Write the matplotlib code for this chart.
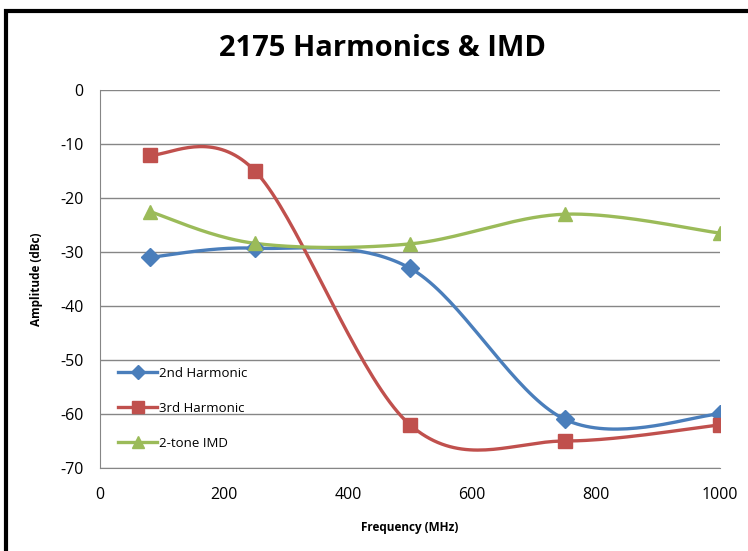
import numpy as np
import matplotlib.pyplot as plt
from matplotlib.patches import Rectangle

freq = [80, 250, 500, 750, 1000]
harm2 = [-31.0, -29.3, -33.0, -61.0, -60.0]
harm3 = [-12.0, -15.0, -62.0, -65.0, -62.0]
imd = [-22.5, -28.4, -28.5, -23.0, -26.5]
labels = ['2nd Harmonic', '3rd Harmonic', '2-tone IMD']

plt.rcParams['font.family'] = ['Open Sans', 'DejaVu Sans']
plt.rcParams['axes.unicode_minus'] = False


def excel_smooth(x, y, n=40):
    # Excel style smoothed line: bezier with control points from neighbours
    x = np.asarray(x, float)
    y = np.asarray(y, float)
    px = np.concatenate([[x[0]], x, [x[-1]]])
    py = np.concatenate([[y[0]], y, [y[-1]]])
    xs, ys = [], []
    t = np.linspace(0, 1, n)
    for i in range(1, len(px) - 2):
        p0 = np.array([px[i], py[i]])
        p3 = np.array([px[i + 1], py[i + 1]])
        c1 = p0 + (np.array([px[i + 1], py[i + 1]]) - np.array([px[i - 1], py[i - 1]])) / 6
        c2 = p3 - (np.array([px[i + 2], py[i + 2]]) - np.array([px[i], py[i]])) / 6
        b = ((1 - t) ** 3)[:, None] * p0 + (3 * (1 - t) ** 2 * t)[:, None] * c1 \
            + (3 * (1 - t) * t ** 2)[:, None] * c2 + (t ** 3)[:, None] * p3
        xs.extend(b[:, 0])
        ys.extend(b[:, 1])
    return xs, ys


fig = plt.figure(figsize=(7.48, 5.51), dpi=100)
fig.patches.append(Rectangle((6 / 748, -0.1), 1.2, 1 - 10.5 / 551 + 0.1,
                             transform=fig.transFigure, fill=False,
                             edgecolor='black', linewidth=3))
ax = fig.add_axes([100 / 748, 1 - 468 / 551, 620 / 748, 378 / 551])

series = [(harm2, '#4A7EBB', 'D', 9), (harm3, '#C0504D', 's', 10), (imd, '#9BBB59', '^', 10)]
for (vals, col, mk, ms), lab in zip(series, labels):
    sx, sy = excel_smooth(freq, vals)
    ax.plot(sx, sy, color=col, linewidth=2.4, zorder=3)
    ax.plot(freq, vals, linestyle='none', marker=mk, markersize=ms, color=col, zorder=4)
    ax.plot([], [], color=col, linewidth=2.4, marker=mk, markersize=ms - 2, label=lab)

ax.set_xlim(0, 1000)
ax.set_ylim(-70, 0)
ax.set_xticks(range(0, 1001, 200))
ax.set_yticks(range(-70, 1, 10))
ax.grid(axis='y', color='#868686', linewidth=1)
ax.set_axisbelow(True)
for s in ['top', 'right']:
    ax.spines[s].set_visible(False)
for s in ['left', 'bottom']:
    ax.spines[s].set_color('#868686')
ax.tick_params(length=0, labelsize=11.5)
ax.tick_params(axis='x', pad=14)
ax.tick_params(axis='y', pad=12)
ax.set_xlabel('Frequency (MHz)', fontsize=8.5, fontweight='bold', labelpad=13)
ax.set_ylabel('Amplitude (dBc)', fontsize=8.5, fontweight='bold', labelpad=12)
fig.text(382 / 748, 1 - 48 / 551, '2175 Harmonics & IMD', fontsize=21, fontweight='bold',
         ha='center', va='center')
ax.legend(loc='lower left', bbox_to_anchor=(0.0, 0.0), frameon=False, fontsize=9.5,
          handlelength=2.9, labelspacing=1.65, handletextpad=0.2, borderaxespad=1.0)

fig.savefig('out.png', dpi=100)
